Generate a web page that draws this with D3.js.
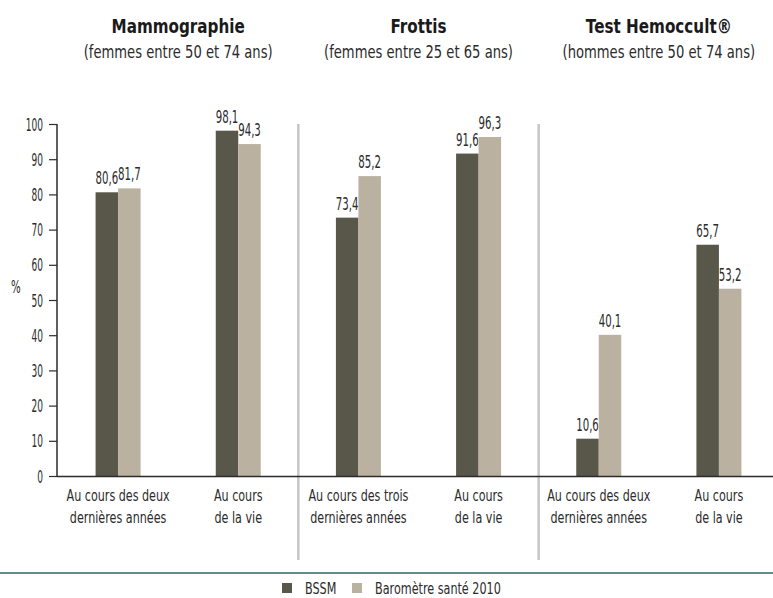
<!DOCTYPE html>
<html><head><meta charset="utf-8">
<script src="https://cdn.jsdelivr.net/npm/d3@7"></script>
<style>
body{margin:0;background:#fff;}
svg text{font-family:"DejaVu Sans",sans-serif;fill:#2b2b2b;}
</style></head>
<body><svg id="c" width="773" height="598"></svg>
<script>
const categories = [
  ["Au cours des deux","dernières années"],
  ["Au cours","de la vie"],
  ["Au cours des trois","dernières années"],
  ["Au cours","de la vie"],
  ["Au cours des deux","dernières années"],
  ["Au cours","de la vie"]
];
const groupTitles = ["Mammographie","Frottis","Test Hemoccult®"];
const groupSubtitles = ["(femmes entre 50 et 74 ans)","(femmes entre 25 et 65 ans)","(hommes entre 50 et 74 ans)"];
const seriesNames = ["BSSM","Baromètre santé 2010"];
const bssm = [80.6, 98.1, 73.4, 91.6, 10.6, 65.7];
const barometre = [81.7, 94.3, 85.2, 96.3, 40.1, 53.2];
const yTicks = [0,10,20,30,40,50,60,70,80,90,100];
const colors = ["#59574a","#bab1a0"];

const svg = d3.select("#c");
const x = d3.scaleBand().domain(d3.range(6)).range([58, 779]).paddingInner(0).paddingOuter(0);
const y = d3.scaleLinear().domain([0,100]).range([476,124]);
const fmt = v => String(v).replace(".", ",");

// text drawn in a horizontally squeezed group to mimic the condensed typeface
function ntext(parent, tx, ty, str, size, sx, anchor, weight){
  const g = parent.append("g").attr("transform",`translate(${tx},${ty}) scale(${sx},1)`);
  const t = g.append("text").attr("x",0).attr("y",0).attr("font-size",size).attr("text-anchor",anchor||"start").text(str);
  if(weight) t.attr("font-weight",weight).style("fill","#1a1a1a");
  return t;
}

// separators
[2,4].forEach(i=>{
  svg.append("line").attr("x1",x(i)).attr("x2",x(i)).attr("y1",124).attr("y2",560)
    .attr("stroke","#c5c6ca").attr("stroke-width",2.5);
});

// y axis
const yAxis = d3.axisLeft(y).tickValues(yTicks).tickSize(8).tickPadding(6);
const ga = svg.append("g").attr("transform","translate(57,0)").call(yAxis);
ga.select(".domain").attr("stroke","#2b2b2b").attr("stroke-width",1.5).attr("d","M0,124V476");
ga.selectAll(".tick line").attr("stroke","#2b2b2b").attr("stroke-width",1.2);
ga.selectAll(".tick text").attr("font-size",17).style("fill","#2b2b2b")
  .attr("x",null).attr("dy","0.36em")
  .attr("transform","translate(-14,0) scale(0.53,1)");
ntext(svg, 11, 293, "%", 17, 0.6);

// bars
const bw = 22.5;
const data = d3.range(6).map(i=>({i, v:[bssm[i], barometre[i]]}));
data.forEach(d=>{
  const c = x(d.i) + x.bandwidth()/2;
  d.v.forEach((v,k)=>{
    const bx = c - bw + k*bw;
    svg.append("rect").attr("x",bx).attr("y",y(v)).attr("width",bw).attr("height",y(0)-y(v)).attr("fill",colors[k]);
    ntext(svg, bx+bw/2, y(v)-8, fmt(v), 17, 0.6, "middle");
  });
});

// x axis line
svg.append("line").attr("x1",57).attr("x2",773).attr("y1",476.5).attr("y2",476.5).attr("stroke","#2b2b2b").attr("stroke-width",1.5);

// category labels
categories.forEach((lines,i)=>{
  lines.forEach((l,j)=>{
    ntext(svg, x(i)+x.bandwidth()/2, 501+j*22, l, 15.5, 0.72, "middle");
  });
});

// group titles
groupTitles.forEach((g,i)=>{
  const cx = x(i*2+1);
  ntext(svg, cx, 33, g, 20, 0.76, "middle", "bold");
  ntext(svg, cx, 58, groupSubtitles[i], 18, 0.73, "middle");
});

// bottom rule
svg.append("line").attr("x1",0).attr("x2",773).attr("y1",573).attr("y2",573).attr("stroke","#5e8e86").attr("stroke-width",2);

// legend
const lg = [{x:282},{x:352}];
seriesNames.forEach((n,k)=>{
  svg.append("rect").attr("x",lg[k].x).attr("y",583).attr("width",10).attr("height",10).attr("fill",colors[k]);
  ntext(svg, lg[k].x+23, 594, n, 16, 0.7);
});
</script></body></html>
